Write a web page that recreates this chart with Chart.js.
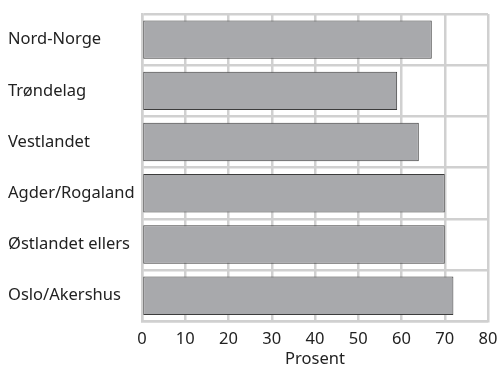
<!DOCTYPE html>
<html>
<head>
<meta charset="utf-8">
<script src="https://cdn.jsdelivr.net/npm/chart.js@4/dist/chart.umd.min.js"></script>
<style>
  html, body { margin: 0; padding: 0; background: #fff; }
  #wrap { width: 500px; height: 373px; }
</style>
</head>
<body>
<div id="wrap"><canvas id="regionChart" width="500" height="373"></canvas></div>
<script>
// data
const regions = ["Nord-Norge", "Trøndelag", "Vestlandet", "Agder/Rogaland", "Østlandet ellers", "Oslo/Akershus"];
const prosent = [67, 59, 64, 70, 70, 72];
const xTitle = "Prosent";

const gridGrey = "#d0d0d0";
const fontFam = "'Noto Sans', 'Open Sans', sans-serif";

new Chart("regionChart", {
  type: "bar",
  data: {
    labels: regions,
    datasets: [{
      data: prosent,
      backgroundColor: "#a8a9ac",
      borderColor: "#3c3c3c",
      borderWidth: 1,
      borderSkipped: false,
      categoryPercentage: 0.75,
      barPercentage: 1.0
    }]
  },
  options: {
    indexAxis: "y",
    responsive: false,
    animation: false,
    layout: { padding: { left: 8, right: 0, top: 14, bottom: 4 } },
    plugins: { legend: { display: false }, tooltip: { enabled: false } },
    scales: {
      x: {
        min: 0, max: 80,
        ticks: { stepSize: 10, color: "#222", font: { family: fontFam, size: 16.5 }, padding: 8 },
        grid: { color: gridGrey, lineWidth: 2.5, drawTicks: false },
        border: { color: gridGrey, width: 2.5 },
        title: { display: true, text: xTitle, color: "#222", font: { family: fontFam, size: 16.5 }, padding: { top: -8, bottom: 0 } },
        afterFit: function(scale) { scale.paddingRight = 12; }
      },
      y: {
        ticks: { color: "#222", font: { family: fontFam, size: 16.5 }, crossAlign: "far", padding: 4 },
        grid: { color: gridGrey, lineWidth: 2.5, offset: true, drawTicks: false },
        border: { color: gridGrey, width: 2.5 },
        afterFit: function(scale) { scale.width = 134; }
      }
    }
  }
});
</script>
</body>
</html>
